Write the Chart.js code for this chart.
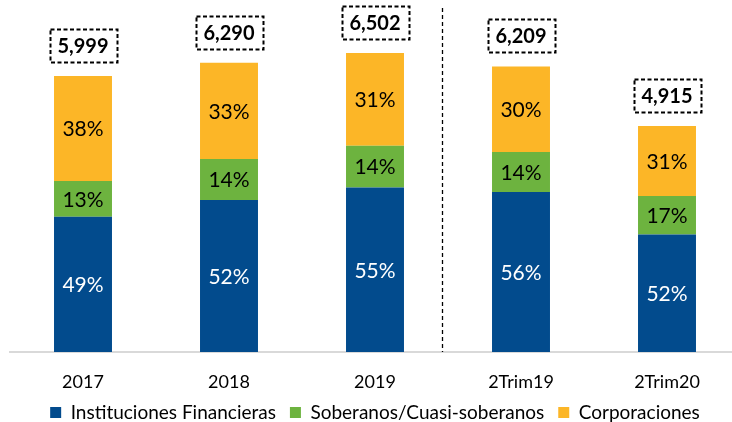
<!DOCTYPE html>
<html><head><meta charset="utf-8">
<script src="https://cdn.jsdelivr.net/npm/chart.js@4.4.0/dist/chart.umd.min.js"></script>
<style>
html,body{margin:0;padding:0;overflow:hidden;background:#fff;width:732px;height:422px}
#wrap{width:740px;height:432px;position:relative}
</style></head>
<body><div id="wrap"><canvas id="c"></canvas></div>
<script>
const categories = ['2017','2018','2019','2Trim19','2Trim20'];
const totals = [5999, 6290, 6502, 6209, 4915];
const pctInstituciones = [49, 52, 55, 56, 52];
const pctSoberanos = [13, 14, 14, 14, 17];
const pctCorporaciones = [38, 33, 31, 30, 31];
const seriesNames = ['Instituciones Financieras','Soberanos/Cuasi-soberanos','Corporaciones'];
const colors = ['#024B8D','#6DB33F','#FCB627'];
const labelColors = ['#ffffff','#000000','#000000'];

const pctSeries = [pctInstituciones, pctSoberanos, pctCorporaciones];
const sums = totals.map((t,i)=>pctSeries.reduce((s,a)=>s+a[i],0));
const datasets = pctSeries.map((p,k)=>({
  label: seriesNames[k],
  data: p.map((v,i)=>totals[i]*v/sums[i]),
  pct: p,
  backgroundColor: colors[k],
  borderWidth: 0,
  barPercentage: 0.397,
  categoryPercentage: 1
}));

const FONT = 'Lato, "Open Sans", sans-serif';

const labelPlugin = {
  id: 'labels',
  afterDatasetsDraw(chart){
    const ctx = chart.ctx;
    const xs = chart.scales.x, ys = chart.scales.y;
    ctx.save();
    const xa = xs.getPixelForValue(2), xb = xs.getPixelForValue(3);
    const xd = Math.round(xa + 0.459*(xb-xa)) + 0.5;
    ctx.strokeStyle = '#000'; ctx.lineWidth = 1.3; ctx.setLineDash([4,3]);
    ctx.beginPath(); ctx.moveTo(xd, 8); ctx.lineTo(xd, ys.getPixelForValue(0)); ctx.stroke();
    ctx.setLineDash([]);
    ctx.textAlign = 'center'; ctx.textBaseline = 'middle';
    chart.data.datasets.forEach((ds,k)=>{
      const meta = chart.getDatasetMeta(k);
      meta.data.forEach((bar,i)=>{
        const cy = (bar.y + bar.base)/2;
        ctx.fillStyle = labelColors[k];
        ctx.font = '21px ' + FONT;
        ctx.fillText(ds.pct[i] + '%', bar.x, cy + 1);
      });
    });
    const top = chart.getDatasetMeta(2);
    top.data.forEach((bar,i)=>{
      const txt = totals[i].toLocaleString('en-US');
      const w = 67, h = 33;
      const bx = Math.round(bar.x - w/2) + 0.5;
      const by = Math.round(bar.y - 14 - h) + 0.5;
      ctx.strokeStyle = '#000'; ctx.lineWidth = 2; ctx.setLineDash([4,2.5]);
      ctx.strokeRect(bx, by, w, h);
      ctx.setLineDash([]);
      ctx.fillStyle = '#000';
      ctx.font = 'bold 20px ' + FONT;
      ctx.fillText(txt, bar.x, by + h/2 + 1);
    });
    ctx.restore();
  }
};

new Chart(document.getElementById('c'), {
  type: 'bar',
  data: { labels: categories, datasets },
  options: {
    responsive: true, maintainAspectRatio: false, animation: false,
    layout: { padding: { left: 10, right: 0, top: 30, bottom: 0 } },
    scales: {
      x: {
        stacked: true,
        grid: { display: false, drawTicks: false },
        border: { color: '#D9D9D9', width: 2 },
        ticks: { color: '#000', font: { family: FONT, size: 18 }, padding: 19, autoSkip: false, maxRotation: 0 },
        afterFit(s){ s.height = 37; }
      },
      y: { stacked: true, display: false, min: 0, max: 7000 }
    },
    plugins: {
      legend: {
        position: 'bottom',
        labels: {
          boxWidth: 11, boxHeight: 11, padding: 14, color: '#000',
          font: { family: FONT, size: 19, lineHeight: 1 }
        }
      },
      tooltip: { enabled: false }
    }
  },
  plugins: [labelPlugin]
});
</script>
</body></html>
